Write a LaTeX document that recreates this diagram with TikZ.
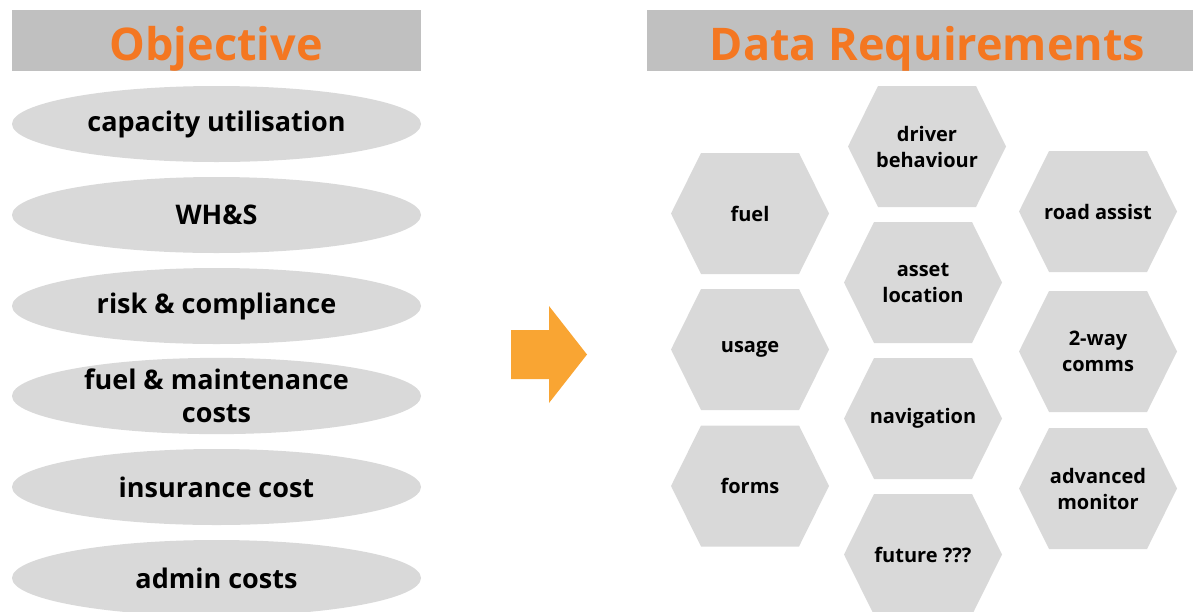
\documentclass[tikz,border=0pt]{standalone}
\usepackage{fontspec}
\setmainfont{Open Sans}
\usetikzlibrary{shapes.geometric}
\definecolor{headgray}{RGB}{192,192,192}
\definecolor{cellgray}{RGB}{217,217,217}
\definecolor{titleorange}{RGB}{244,119,33}
\definecolor{arroworange}{RGB}{249,165,51}
\tikzset{
  header/.style={fill=headgray},
  headtitle/.style={anchor=base,text=titleorange,font=\bfseries\fontsize{45}{50}\selectfont},
  goal/.style={ellipse,fill=cellgray,minimum width=409pt,minimum height=76pt,inner sep=0pt,align=center,
    font=\bfseries\fontsize{27}{33}\selectfont},
  hexlabel/.style={align=center,inner sep=0pt,font=\bfseries\fontsize{20}{26}\selectfont},
}
% one grey hexagon cell with its label
\newcommand{\hexcell}[4]{%
  \fill[cellgray] (#2,#3) +(-79,0) -- +(-49,-60.5) -- +(49,-60.5) -- +(79,0)
    -- +(49,60.5) -- +(-49,60.5) -- cycle;
  \node[hexlabel] (#1) at (#2,#3) {#4};}
\begin{document}
\begin{tikzpicture}[x=1pt,y=-1pt]
	\useasboundingbox (0,0) rectangle (1193,611);
	% headers
	\fill[header] (12,10) rectangle (421,71);
	\node[headtitle] (objtitle) at (216,60) {Objective};
	\fill[header] (647,10) rectangle (1193,71);
	\node[headtitle] (reqtitle) at (927.5,60) {Data Requirements};
	% objectives
	\node[goal] (capacity) at (216.5,124) {capacity utilisation};
	\node[goal] (whs) at (216.5,215) {WH\&S};
	\node[goal] (risk) at (216.5,306) {risk \& compliance};
	\node[goal] (maint) at (216.5,396) {fuel \& maintenance\\costs};
	\node[goal] (insur) at (216.5,487) {insurance cost};
	\node[goal] (admin) at (216.5,578) {admin costs};
	% big arrow
	\fill[arroworange] (511,330) -- (549,330) -- (549,306) -- (587,354.5) -- (549,403) -- (549,379) -- (511,379) -- cycle;
	% data cells
	\hexcell{fuel}{750}{213.5}{fuel}
	\hexcell{usage}{750}{349.5}{usage}
	\hexcell{forms}{750}{486}{forms}
	\hexcell{driver}{927}{146.5}{driver\\behaviour}
	\hexcell{asset}{923}{282.5}{asset\\location}
	\hexcell{navig}{923}{418.5}{navigation}
	\hexcell{future}{923}{554.5}{future ???}
	\hexcell{road}{1098}{211.5}{road assist}
	\hexcell{comms}{1098}{351.5}{2-way\\comms}
	\hexcell{advmon}{1098}{488.5}{advanced\\monitor}
\end{tikzpicture}
\end{document}
